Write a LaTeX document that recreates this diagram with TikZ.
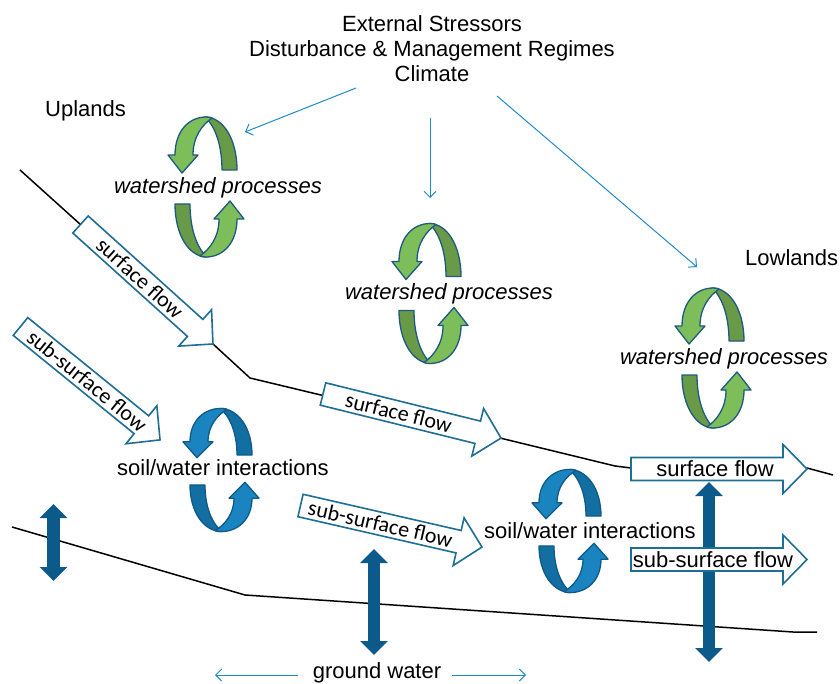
\documentclass[tikz,border=0pt]{standalone}
\usepackage{fontspec}
\setmainfont{Liberation Sans}
\newfontfamily\calib{Carlito}
\usetikzlibrary{arrows.meta}
\definecolor{gL}{HTML}{7DBE5A}
\definecolor{gD}{HTML}{689A48}
\definecolor{gO}{HTML}{1F5A80}
\definecolor{bL}{HTML}{1A84C0}
\definecolor{bD}{HTML}{136EA2}
\definecolor{bO}{HTML}{0F5A88}
\definecolor{dblue}{HTML}{0B5A8A}
\definecolor{thinblue}{HTML}{1E8CC8}
\definecolor{boxO}{HTML}{1E6E96}
\tikzset{
  txt/.style={font=\fontsize{22}{25}\selectfont, inner sep=0pt},
  flowstyle/.style={fill=white, draw=boxO, line width=1.6pt, line join=miter},
  terrain/.style={draw=black, line width=1.5pt},
  dbl/.style={draw=dblue, line width=12.5pt, {Triangle[length=14pt,width=27pt]}-{Triangle[length=14pt,width=27pt]}},
  thinarr/.style={draw=thinblue, line width=1pt, -{Straight Barb[length=6pt,width=12pt]}},
  pics/cyc/.style n args={3}{code={
    \foreach \r in {0,180}{
      \begin{scope}[rotate=\r]
        \filldraw[fill=#2, draw=#3, line width=1.3pt, line join=round]
          (-1,-70) .. controls (17,-70) and (31,-48) .. (31,-17) -- (16,-17)
          .. controls (16,-44) and (8,-62) .. (-1,-70) -- cycle;
        \filldraw[fill=#1, draw=#3, line width=1.3pt, line join=round]
          (-31,-32) .. controls (-31,-56) and (-17,-70) .. (0,-70)
          .. controls (3,-70) and (5,-69.5) .. (6,-69)
          .. controls (-4,-62) and (-13,-50) .. (-13,-32)
          -- (-8,-32) -- (-24,-14) -- (-38,-32) -- cycle;
      \end{scope}}
  }}
}
\newcommand\flowbox[7]{%
  \begin{scope}[shift={#2},rotate=#3]
    \filldraw[flowstyle] (0,-11.5) -- ({#4-24},-11.5) -- ({#4-24},-24.5) -- (#4,0)
      -- ({#4-24},24.5) -- ({#4-24},11.5) -- (0,11.5) -- cycle;
    \node[txt, rotate=#3, font=#7\fontsize{22}{25}\selectfont] (#1) at (#6,0) {#5};
  \end{scope}}
\begin{document}
\begin{tikzpicture}[x=1pt,y=-1pt]
\useasboundingbox (0,0) rectangle (840,684);

% terrain lines
\coordinate (s0) at (20,170);
\coordinate (s1) at (213,344);
\coordinate (s2) at (250,378);
\coordinate (s3) at (500,438);
\coordinate (s4) at (615,466);
\coordinate (s5) at (631,468);
\coordinate (s6) at (807,468);
\coordinate (s7) at (833,475);
\draw[terrain] (s0) -- (s1) -- (s2) -- (s3) -- (s4) -- (s5) -- (s6) -- (s7);
\coordinate (g0) at (12,527);
\coordinate (g1) at (245,595);
\coordinate (g2) at (793,632);
\coordinate (g3) at (817,632);
\draw[terrain] (g0) -- (g1) -- (g2) -- (g3);

% top text and stressor arrows
\node[txt, align=center] (ext) at (432,48.7) {External Stressors\\Disturbance \& Management Regimes\\Climate};
\coordinate (a1s) at (356,88);  \coordinate (a1e) at (245,132);
\coordinate (a2s) at (430,118); \coordinate (a2e) at (430,198);
\coordinate (a3s) at (497,96);  \coordinate (a3e) at (697,267);
\draw[thinarr] (a1s) -- (a1e);
\draw[thinarr] (a2s) -- (a2e);
\draw[thinarr] (a3s) -- (a3e);

\node[txt, anchor=base west] (up) at (45,117) {Uplands};
\node[txt, anchor=base west] (low) at (745,266) {Lowlands};

% watershed process loops
\pic at (206,187) {cyc={gL}{gD}{gO}};
\pic at (430,293.5) {cyc={gL}{gD}{gO}};
\pic at (713,358) {cyc={gL}{gD}{gO}};
\node[txt, font=\itshape\fontsize{22}{25}\selectfont] (wp1) at (218,188) {watershed processes};
\node[txt, font=\itshape\fontsize{22}{25}\selectfont] (wp2) at (449,294) {watershed processes};
\node[txt, font=\itshape\fontsize{22}{25}\selectfont] (wp3) at (724,359) {watershed processes};

% soil/water loops
\pic[yscale=0.88] at (221,470) {cyc={bL}{bD}{bO}};
\pic[yscale=0.88] at (570,531) {cyc={bL}{bD}{bO}};
\node[txt] (sw1) at (223,468) {soil/water interactions};
\node[txt] (sw2) at (590,531) {soil/water interactions};

% vertical exchange arrows
\coordinate (d1a) at (53.5,504); \coordinate (d1b) at (53.5,581);
\coordinate (d2a) at (374,549);  \coordinate (d2b) at (374,655);
\coordinate (d3a) at (709,482);  \coordinate (d3b) at (709,662);
\draw[dbl] (d1a) -- (d1b);
\draw[dbl] (d2a) -- (d2b);
\draw[dbl] (d3a) -- (d3b);

% flow arrows
\flowbox{sf1}{(80.5,224.5)}{-42.05}{178.4}{surface flow}{80}{\calib}
\flowbox{ssf1}{(20.5,326.5)}{-39.1}{179.8}{sub-surface flow}{86}{\calib}
\flowbox{sf2}{(323,394)}{-13.9}{183.4}{surface flow}{78}{\calib}
\flowbox{ssf2}{(300.5,505.5)}{-12.9}{186.2}{sub-surface flow}{82}{\calib}
\flowbox{sf3}{(631,469)}{0}{176}{surface flow}{84}{}
\flowbox{ssf3}{(631,559.5)}{0}{176}{sub-surface flow}{82}{}

% ground water
\node[txt] (gw) at (377,673) {ground water};
\coordinate (gl) at (215,675); \coordinate (gr) at (526,675);
\draw[thinarr] (gw.west) ++(-15,2) -- (gl);
\draw[thinarr] (gw.east) ++(11,2) -- (gr);
\end{tikzpicture}
\end{document}
